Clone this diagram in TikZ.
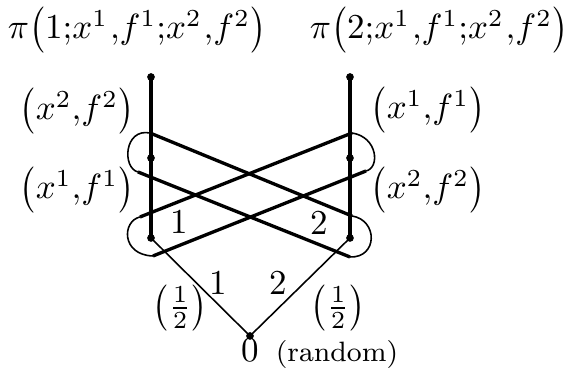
\documentclass[tikz,border=0pt]{standalone}
\newcommand\Lp{\mathopen{\vcenter{\hbox{\scalebox{1}[1.1]{$\bigl($}}}}}
\newcommand\Rp{\mathclose{\vcenter{\hbox{\scalebox{1}[1.1]{$\bigr)$}}}}}
\begin{document}
\begin{tikzpicture}[x=0.2857pt,y=-0.2857pt,
  dot/.style={circle,fill,inner sep=0pt,minimum size=2.2pt},
  heavy/.style={line width=0.95pt},
  light/.style={line width=0.45pt},
  lbl/.style={inner sep=0pt}]
\useasboundingbox (0,0) rectangle (566,376);
% decision nodes
\node[dot] (a1) at (151,77) {};
\node[dot] (a2) at (151,158) {};
\node[dot] (a3) at (151,238) {};
\node[dot] (b1) at (350,77) {};
\node[dot] (b2) at (350,158) {};
\node[dot] (b3) at (350,238) {};
\node[dot] (r) at (250,336) {};
\draw[heavy] (a1.center) -- (a3.center);
\draw[heavy] (b1.center) -- (b3.center);
\draw[light] (r.center) -- (a3.center);
\draw[light] (r.center) -- (b3.center);
% information set 1
\coordinate (s1a) at (150,133);
\coordinate (s1b) at (352,216);
\coordinate (s1c) at (350,257);
\coordinate (s1d) at (138,172);
\draw[heavy] (s1a) -- (s1b);
\draw[heavy] (s1d) -- (s1c);
\draw[light] (s1a) .. controls (124,128) and (122,168) .. (s1d);
\draw[light] (s1b) .. controls (378,220) and (378,258) .. (s1c);
% information set 2
\coordinate (s2a) at (140,217);
\coordinate (s2b) at (352,133);
\coordinate (s2c) at (366,171);
\coordinate (s2d) at (153,256);
\draw[heavy] (s2a) -- (s2b);
\draw[heavy] (s2d) -- (s2c);
\draw[light] (s2a) .. controls (122,221) and (121,255) .. (s2d);
\draw[light] (s2b) .. controls (378,137) and (380,168) .. (s2c);
% labels
\node[lbl] (h1) at (137,30) {$\pi\Lp1{;}x^1\mkern1mu{,}f^1{;}x^2\mkern1mu{,}f^2\Rp$};
\node[lbl] (h2) at (439,30) {$\pi\Lp2{;}x^1\mkern1mu{,}f^1{;}x^2\mkern1mu{,}f^2\Rp$};
\node[lbl] (la) at (77,111) {$\Lp x^2{,}f^2\Rp$};
\node[lbl] (lb) at (77,190) {$\Lp x^1{,}f^1\Rp$};
\node[lbl] (ra) at (428,110) {$\Lp x^1{,}f^1\Rp$};
\node[lbl] (rb) at (428,190) {$\Lp x^2{,}f^2\Rp$};
\node[lbl] (i1) at (179,222) {$1$};
\node[lbl] (i2) at (319,223) {$2$};
\node[lbl] (e1) at (218,283) {$1$};
\node[lbl] (e2) at (278,283) {$2$};
\node[lbl] (p1) at (180,308) {$\Lp\frac12\Rp$};
\node[lbl] (p2) at (338,308) {$\Lp\frac12\Rp$};
\node[lbl] (z) at (250,350) {$0$};
\node[lbl,anchor=base west,font=\footnotesize] (rd) at ([xshift=4.5pt]z.base east) {(random)};
\end{tikzpicture}
\end{document}
